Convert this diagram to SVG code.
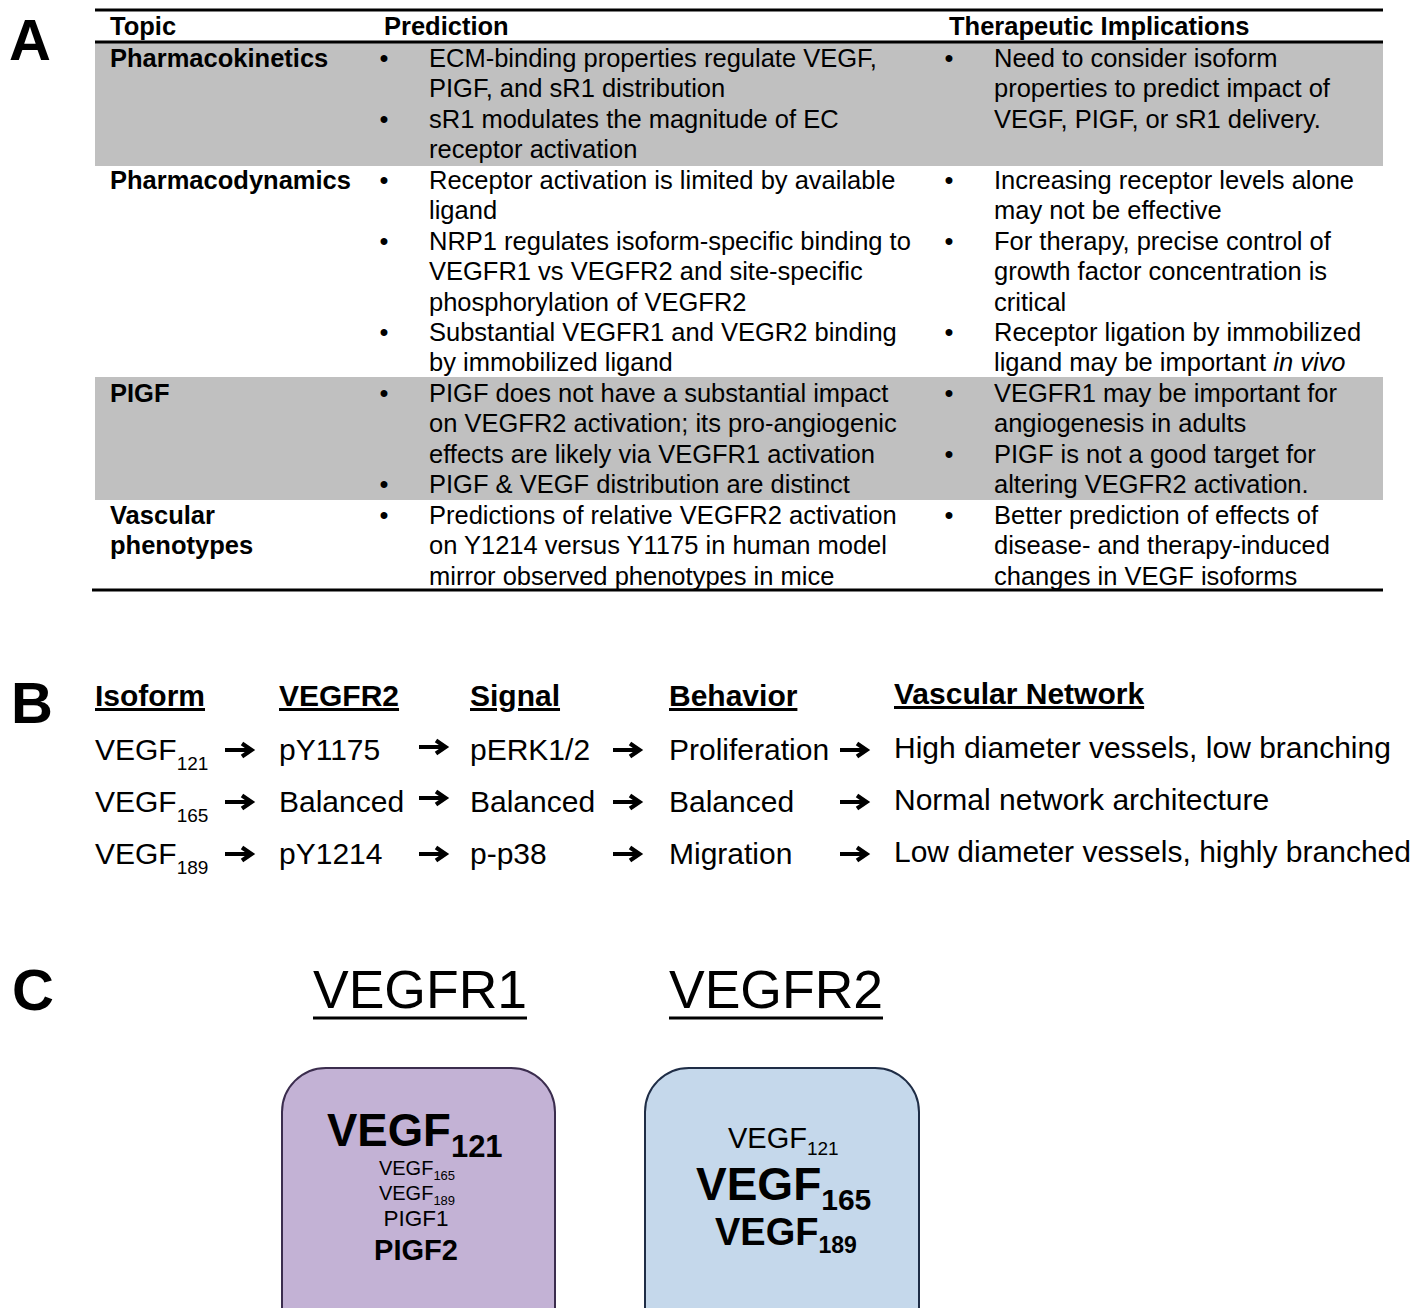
<svg xmlns="http://www.w3.org/2000/svg" xmlns:xlink="http://www.w3.org/1999/xlink" width="1418" height="1308" viewBox="0 0 1418 1308">
<style>
text{font-family:"Liberation Sans",Arial,sans-serif;fill:#000}
.t{font-size:25.5px}
.b{font-weight:bold}
.bul{font-size:25.5px;text-anchor:middle}
.lab{font-size:58px;font-weight:bold}
.pb{font-size:30px}
.hd{font-size:30px;font-weight:bold;text-decoration:underline}
.rule{stroke:#000;stroke-width:3}
.band{fill:#c0c0c0}
.c{text-anchor:middle}
</style>
<defs>
<path id="arr" d="M0,0 H26 M17,-6.5 L26.5,0 L17,6.5" fill="none" stroke="#000" stroke-width="4.2" stroke-linejoin="miter"/>
</defs>
<rect width="1418" height="1308" fill="#fff"/>

<!-- Panel A -->
<g id="panelA">
<text class="lab" x="9" y="60">A</text>
<rect class="band" x="95" y="42" width="1288" height="124"/>
<rect class="band" x="95" y="377" width="1288" height="123"/>
<line class="rule" x1="95" y1="10" x2="1383" y2="10"/>
<line class="rule" x1="95" y1="42" x2="1383" y2="42"/>
<line class="rule" x1="92" y1="590" x2="1383" y2="590"/>
<g id="header" class="t b">
<text x="110" y="34.5">Topic</text>
<text x="384" y="34.5">Prediction</text>
<text x="949" y="34.5">Therapeutic Implications</text>
</g>
<g id="row-pk">
<text class="t b" x="110" y="66.7">Pharmacokinetics</text>
<text class="bul" x="384" y="66.7">•</text>
<text class="t" x="429" y="66.7">ECM-binding properties regulate VEGF,</text>
<text class="t" x="429" y="97.2">PIGF, and sR1 distribution</text>
<text class="bul" x="384" y="127.6">•</text>
<text class="t" x="429" y="127.6">sR1 modulates the magnitude of EC</text>
<text class="t" x="429" y="158.1">receptor activation</text>
<text class="bul" x="949" y="66.7">•</text>
<text class="t" x="994" y="66.7">Need to consider isoform</text>
<text class="t" x="994" y="97.2">properties to predict impact of</text>
<text class="t" x="994" y="127.6">VEGF, PIGF, or sR1 delivery.</text>
</g>
<g id="row-pd">
<text class="t b" x="110" y="188.6">Pharmacodynamics</text>
<text class="bul" x="384" y="188.6">•</text>
<text class="t" x="429" y="188.6">Receptor activation is limited by available</text>
<text class="t" x="429" y="219.1">ligand</text>
<text class="bul" x="384" y="249.5">•</text>
<text class="t" x="429" y="249.5">NRP1 regulates isoform-specific binding to</text>
<text class="t" x="429" y="280">VEGFR1 vs VEGFR2 and site-specific</text>
<text class="t" x="429" y="310.5">phosphorylation of VEGFR2</text>
<text class="bul" x="384" y="340.9">•</text>
<text class="t" x="429" y="340.9">Substantial VEGFR1 and VEGR2 binding</text>
<text class="t" x="429" y="371.4">by immobilized ligand</text>
<text class="bul" x="949" y="188.6">•</text>
<text class="t" x="994" y="188.6">Increasing receptor levels alone</text>
<text class="t" x="994" y="219.1">may not be effective</text>
<text class="bul" x="949" y="249.5">•</text>
<text class="t" x="994" y="249.5">For therapy, precise control of</text>
<text class="t" x="994" y="280">growth factor concentration is</text>
<text class="t" x="994" y="310.5">critical</text>
<text class="bul" x="949" y="340.9">•</text>
<text class="t" x="994" y="340.9">Receptor ligation by immobilized</text>
<text class="t" x="994" y="371.4">ligand may be important <tspan font-style="italic">in vivo</tspan></text>
</g>
<g id="row-pigf">
<text class="t b" x="110" y="401.9">PIGF</text>
<text class="bul" x="384" y="401.9">•</text>
<text class="t" x="429" y="401.9">PIGF does not have a substantial impact</text>
<text class="t" x="429" y="432.3">on VEGFR2 activation; its pro-angiogenic</text>
<text class="t" x="429" y="462.8">effects are likely via VEGFR1 activation</text>
<text class="bul" x="384" y="493.3">•</text>
<text class="t" x="429" y="493.3">PIGF &amp; VEGF distribution are distinct</text>
<text class="bul" x="949" y="401.9">•</text>
<text class="t" x="994" y="401.9">VEGFR1 may be important for</text>
<text class="t" x="994" y="432.3">angiogenesis in adults</text>
<text class="bul" x="949" y="462.8">•</text>
<text class="t" x="994" y="462.8">PIGF is not a good target for</text>
<text class="t" x="994" y="493.3">altering VEGFR2 activation.</text>
</g>
<g id="row-vasc">
<text class="t b" x="110" y="523.8">Vascular</text>
<text class="t b" x="110" y="554.2">phenotypes</text>
<text class="bul" x="384" y="523.8">•</text>
<text class="t" x="429" y="523.8">Predictions of relative VEGFR2 activation</text>
<text class="t" x="429" y="554.2">on Y1214 versus Y1175 in human model</text>
<text class="t" x="429" y="584.7">mirror observed phenotypes in mice</text>
<text class="bul" x="949" y="523.8">•</text>
<text class="t" x="994" y="523.8">Better prediction of effects of</text>
<text class="t" x="994" y="554.2">disease- and therapy-induced</text>
<text class="t" x="994" y="584.7">changes in VEGF isoforms</text>
</g>
</g>

<!-- Panel B -->
<g id="panelB">
<text class="lab" x="11" y="723">B</text>
<g id="b-headers">
<text class="hd" x="95" y="706">Isoform</text>
<text class="hd" x="279" y="706">VEGFR2</text>
<text class="hd" x="470" y="706">Signal</text>
<text class="hd" x="669" y="706">Behavior</text>
<text class="hd" x="894" y="704">Vascular Network</text>
</g>
<g id="b-row1" class="pb">
<text x="95" y="760">VEGF<tspan font-size="19px" dy="10">121</tspan></text>
<text x="279" y="760">pY1175</text>
<text x="470" y="760">pERK1/2</text>
<text x="669" y="760">Proliferation</text>
<text x="894" y="758">High diameter vessels, low branching</text>
</g>
<g id="b-row2" class="pb">
<text x="95" y="812">VEGF<tspan font-size="19px" dy="10">165</tspan></text>
<text x="279" y="812">Balanced</text>
<text x="470" y="812">Balanced</text>
<text x="669" y="812">Balanced</text>
<text x="894" y="810">Normal network architecture</text>
</g>
<g id="b-row3" class="pb">
<text x="95" y="864">VEGF<tspan font-size="19px" dy="10">189</tspan></text>
<text x="279" y="864">pY1214</text>
<text x="470" y="864">p-p38</text>
<text x="669" y="864">Migration</text>
<text x="894" y="862">Low diameter vessels, highly branched</text>
</g>
<g id="connectors">
<use xlink:href="#arr" x="225" y="750"/>
<use xlink:href="#arr" x="419" y="747"/>
<use xlink:href="#arr" x="613" y="750"/>
<use xlink:href="#arr" x="840" y="750"/>
<use xlink:href="#arr" x="225" y="802"/>
<use xlink:href="#arr" x="419" y="798"/>
<use xlink:href="#arr" x="613" y="802"/>
<use xlink:href="#arr" x="840" y="802"/>
<use xlink:href="#arr" x="225" y="854"/>
<use xlink:href="#arr" x="419" y="854"/>
<use xlink:href="#arr" x="613" y="854"/>
<use xlink:href="#arr" x="840" y="854"/>
</g>
</g>

<!-- Panel C -->
<g id="panelC">
<text class="lab" x="12" y="1010" font-size="52px">C</text>
<text x="313" y="1008" font-size="53.5px">VEGFR1</text>
<line x1="313" y1="1018" x2="527" y2="1018" stroke="#000" stroke-width="3"/>
<text x="669" y="1008" font-size="53.5px">VEGFR2</text>
<line x1="669" y1="1018" x2="883" y2="1018" stroke="#000" stroke-width="3"/>
<g id="box-vegfr1">
<rect x="282" y="1068" width="273" height="290" rx="44" fill="#c3b2d5" stroke="#3b2d4e" stroke-width="2"/>
<text x="327" y="1146" font-size="45.5px" font-weight="bold">VEGF<tspan font-size="31px" dy="11">121</tspan></text>
<text class="c" x="417" y="1175" font-size="20px">VEGF<tspan font-size="13px" dy="5">165</tspan></text>
<text class="c" x="417" y="1200" font-size="20px">VEGF<tspan font-size="13px" dy="5">189</tspan></text>
<text class="c" x="416" y="1226" font-size="22.5px">PIGF1</text>
<text class="c" x="416" y="1260" font-size="29px" font-weight="bold">PIGF2</text>
</g>
<g id="box-vegfr2">
<rect x="645" y="1068" width="274" height="290" rx="44" fill="#c5d8eb" stroke="#1f2d46" stroke-width="2"/>
<text x="728" y="1148" font-size="29px">VEGF<tspan font-size="19px" dy="7">121</tspan></text>
<text x="696" y="1200" font-size="46px" font-weight="bold">VEGF<tspan font-size="30px" dy="10">165</tspan></text>
<text x="715" y="1245" font-size="38px" font-weight="bold">VEGF<tspan font-size="23px" dy="8">189</tspan></text>
</g>
</g>
</svg>
